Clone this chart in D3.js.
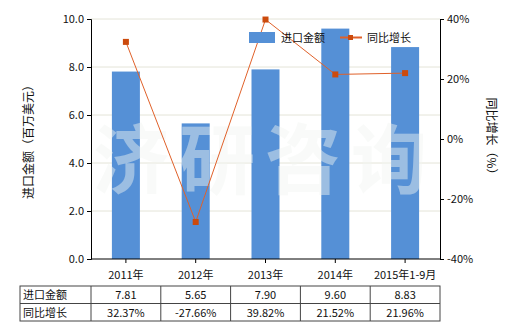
<!DOCTYPE html>
<html>
<head>
<meta charset="utf-8">
<script src="https://cdn.jsdelivr.net/npm/d3@7"></script>
<style>
  body { margin: 0; background: #fff; }
  text { font-family: "Noto Sans CJK SC", "DejaVu Sans", sans-serif; }
</style>
</head>
<body>
<div id="chart"></div>
<script>
// chart data
const categories = ["2011年", "2012年", "2013年", "2014年", "2015年1-9月"];
const importValues = [7.81, 5.65, 7.90, 9.60, 8.83];
const growthValues = [32.37, -27.66, 39.82, 21.52, 21.96];
const leftTicks = [0, 2, 4, 6, 8, 10];
const rightTicks = [-40, -20, 0, 20, 40];

const w = 520, h = 330;
const pLeft = 91, pRight = 440, pTop = 19, pBottom = 259;

const svg = d3.select("#chart").append("svg")
    .attr("width", w)
    .attr("height", h);

const band = d3.scaleBand().domain(categories).range([pLeft, pRight]);
const yL = d3.scaleLinear().domain([0, 10]).range([pBottom, pTop]);
const yR = d3.scaleLinear().domain([-40, 40]).range([pBottom, pTop]);
const cx = i => band(categories[i]) + band.bandwidth() / 2;

// grid
svg.append("g")
    .selectAll("line")
    .data(leftTicks.slice(1))
    .join("line")
    .attr("x1", pLeft).attr("x2", pRight)
    .attr("y1", d => yL(d)).attr("y2", d => yL(d))
    .attr("stroke", "#e4e4d8")
    .attr("stroke-width", 1);

// bars
svg.append("g")
    .selectAll("rect")
    .data(importValues)
    .join("rect")
    .attr("x", (d, i) => cx(i) - 14)
    .attr("width", 28)
    .attr("y", d => yL(d))
    .attr("height", d => pBottom - yL(d))
    .attr("fill", "#5590d6");

// watermark
svg.append("text")
    .attr("x", 265).attr("y", 188)
    .attr("text-anchor", "middle")
    .attr("font-size", 76)
    .attr("font-weight", "bold")
    .attr("letter-spacing", 10)
    .attr("fill", "#f2f6f2")
    .attr("opacity", 0.45)
    .text("济研咨询");

// line
svg.append("path")
    .datum(growthValues)
    .attr("d", d3.line().x((d, i) => cx(i)).y(d => yR(d)))
    .attr("fill", "none")
    .attr("stroke", "#e0612a")
    .attr("stroke-width", 1);

svg.append("g")
    .selectAll("rect")
    .data(growthValues)
    .join("rect")
    .attr("x", (d, i) => cx(i) - 3)
    .attr("y", d => yR(d) - 3)
    .attr("width", 6).attr("height", 6)
    .attr("fill", "#cc4a0c");

// axes
const axL = svg.append("g")
    .attr("transform", `translate(${pLeft},0)`)
    .call(d3.axisLeft(yL).tickValues(leftTicks).tickFormat(d3.format(".1f")).tickSize(4));
const axR = svg.append("g")
    .attr("transform", `translate(${pRight},0)`)
    .call(d3.axisRight(yR).tickValues(rightTicks).tickFormat(d => d + "%").tickSize(4));
const axB = svg.append("g")
    .attr("transform", `translate(0,${pBottom})`)
    .call(d3.axisBottom(band).tickSize(4).tickPadding(8));

[axL, axR, axB].forEach(a => {
    a.select(".domain").attr("stroke", "#000");
    a.selectAll("line").attr("stroke", "#000");
    a.selectAll("text").attr("font-size", 11).attr("fill", "#111")
        .style("font-family", "'Noto Sans CJK SC', sans-serif");
});
axB.select(".domain").attr("d", `M${pLeft},0H${pRight}`);

// axis titles
svg.append("text")
    .attr("transform", "translate(33,139) rotate(-90)")
    .attr("text-anchor", "middle")
    .attr("font-size", 12)
    .attr("fill", "#111")
    .text("进口金额（百万美元）");
svg.append("text")
    .attr("transform", "translate(487,139) rotate(90)")
    .attr("text-anchor", "middle")
    .attr("font-size", 12)
    .attr("fill", "#111")
    .text("同比增长（%）");

// legend
svg.append("rect").attr("x", 249).attr("y", 32).attr("width", 26).attr("height", 11).attr("fill", "#5590d6");
svg.append("text").attr("x", 281).attr("y", 42).attr("font-size", 11).attr("fill", "#111").text("进口金额");
svg.append("line").attr("x1", 340).attr("x2", 362).attr("y1", 37.5).attr("y2", 37.5)
    .attr("stroke", "#e0612a").attr("stroke-width", 2);
svg.append("rect").attr("x", 348).attr("y", 35).attr("width", 5).attr("height", 5).attr("fill", "#cc4a0c");
svg.append("text").attr("x", 367).attr("y", 42).attr("font-size", 11).attr("fill", "#111").text("同比增长");

// table
const rowNames = ["进口金额", "同比增长"];
const rows = [importValues.map(d => d.toFixed(2)), growthValues.map(d => d.toFixed(2) + "%")];
const tTop = 286, rowH = 17.5, tLeft = 20;
const tbl = svg.append("g");
tbl.append("rect")
    .attr("x", tLeft).attr("y", tTop)
    .attr("width", pRight - tLeft).attr("height", rowH * 2)
    .attr("fill", "none").attr("stroke", "#444");
tbl.append("line").attr("x1", tLeft).attr("x2", pRight)
    .attr("y1", tTop + rowH).attr("y2", tTop + rowH).attr("stroke", "#444");
tbl.selectAll(".col")
    .data(categories)
    .join("line")
    .attr("class", "col")
    .attr("x1", d => band(d)).attr("x2", d => band(d))
    .attr("y1", tTop).attr("y2", tTop + rowH * 2)
    .attr("stroke", "#444");
rowNames.forEach((name, r) => {
    tbl.append("text")
        .attr("x", tLeft + 3).attr("y", tTop + rowH * r + 13)
        .attr("font-size", 11).attr("fill", "#111")
        .text(name);
    tbl.selectAll(".v" + r)
        .data(rows[r])
        .join("text")
        .attr("x", (d, i) => cx(i)).attr("y", tTop + rowH * r + 13)
        .attr("text-anchor", "middle")
        .attr("font-size", 11).attr("fill", "#111")
        .text(d => d);
});
</script>
</body>
</html>
